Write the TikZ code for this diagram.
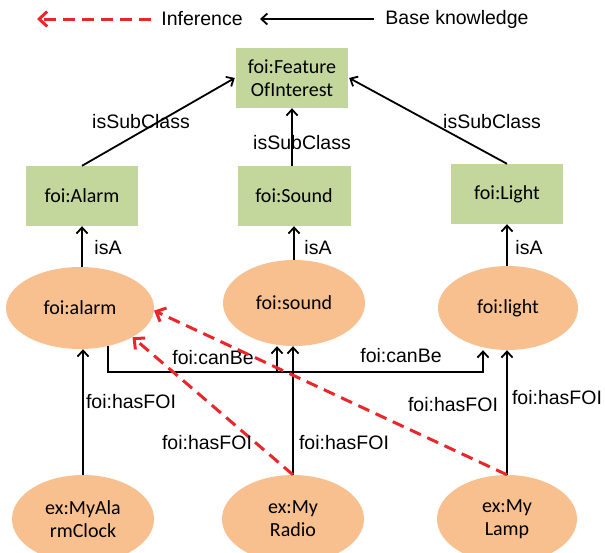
\documentclass[tikz,border=0pt]{standalone}
\usepackage{fontspec}
\setmainfont{Liberation Sans}
\newfontfamily\nodefont{Carlito}
\usetikzlibrary{arrows.meta,shapes.geometric}
\definecolor{boxgreen}{HTML}{C3D69B}
\definecolor{ellorange}{HTML}{F8BF8F}
\definecolor{infred}{HTML}{E8262B}
\tikzset{
  classbox/.style={fill=boxgreen, draw=none, minimum width=112pt, minimum height=60pt, inner sep=0pt, align=center, font=\nodefont\fontsize{20}{23}\selectfont},
  inst/.style={ellipse, fill=ellorange, draw=none, inner sep=0pt, align=center, font=\nodefont\fontsize{20}{23}\selectfont},
  lbl/.style={font=\fontsize{19.5}{22}\selectfont, inner sep=0pt},
  base/.style={line width=1.8pt, -{Straight Barb[length=6pt,width=11pt,line width=1.8pt]}},
  infer/.style={line width=3pt, draw=infred, dash pattern=on 12pt off 7pt, -{Straight Barb[length=8pt,width=15pt,line width=3pt]}}
}
\begin{document}
\begin{tikzpicture}[x=1pt,y=-1pt]
\useasboundingbox (0,0) rectangle (605,552);
% legend
\coordinate (l1s) at (151,19);
\coordinate (l1e) at (37,19);
\coordinate (l2s) at (374,19);
\coordinate (l2e) at (260,19);
\draw[infer] (l1s) -- (l1e);
\node[lbl] (linf) at (202,19) {Inference};
\draw[base] (l2s) -- (l2e);
\node[lbl] (lbase) at (457,19) {Base knowledge};
% classes
\node[classbox] (foi) at (292,78) {foi:Feature\\OfInterest};
\node[classbox] (alarmC) at (82,196) {foi:Alarm};
\node[classbox, minimum width=113pt] (soundC) at (294,196) {foi:Sound};
\node[classbox] (lightC) at (507,194) {foi:Light};
% instances
\node[inst, minimum width=148pt, minimum height=82pt] (alarm) at (80,308) {foi:alarm};
\node[inst, minimum width=142pt, minimum height=86pt] (sound) at (294,303) {foi:sound};
\node[inst, minimum width=140pt, minimum height=84pt] (light) at (508,308) {foi:light};
\node[inst, minimum width=142pt, minimum height=88pt] (clock) at (83,519) {ex:MyAla\\rmClock};
\node[inst, minimum width=142pt, minimum height=88pt] (radio) at (293,519) {ex:My\\Radio};
\node[inst, minimum width=140pt, minimum height=88pt] (lamp) at (507,519) {ex:My\\Lamp};
% isSubClass
\draw[base] (alarmC.north) -- ([xshift=-1pt]foi.west);
\draw[base] (soundC.north -| foi.south) -- (foi.south);
\draw[base] (lightC.north) -- ([xshift=1pt]foi.east);
\node[lbl] (sc1) at (141,122) {isSubClass};
\node[lbl] (sc2) at (302,143) {isSubClass};
\node[lbl] (sc3) at (492,122) {isSubClass};
% isA
\draw[base] (alarmC.south |- alarm.north) -- (alarmC.south);
\draw[base] (sound.north) -- (soundC.south);
\draw[base] (lightC.south |- light.north) -- (lightC.south);
\node[lbl] (ia1) at (108,248) {isA};
\node[lbl] (ia2) at (318,248) {isA};
\node[lbl] (ia3) at (529,248) {isA};
% canBe
\coordinate (cbM) at (277,372);
\coordinate (cbR) at (483,372);
\draw[base] (alarm.-54) |- (cbR) -- (cbR |- light.south);
\draw[base] (cbM) -- (cbM |- sound.south);
\node[lbl] (cb1) at (213,358) {foi:canBe};
\node[lbl] (cb2) at (401,356) {foi:canBe};
% hasFOI base
\draw[base] (clock.north) -- (clock.north |- alarm.south);
\draw[base] (radio.north) -- (radio.north |- sound.south);
\draw[base] (lamp.north) -- (lamp.north |- light.south);
\node[lbl] (hf1) at (131,402) {foi:hasFOI};
\node[lbl] (hf2) at (344,443) {foi:hasFOI};
\node[lbl] (hf3) at (557,398) {foi:hasFOI};
% inference
\draw[infer] (radio.north) -- (alarm.-29);
\draw[infer] (lamp.north) -- (alarm.-2);
\node[lbl] (hf4) at (207,443) {foi:hasFOI};
\node[lbl] (hf5) at (453,405) {foi:hasFOI};
\end{tikzpicture}
\end{document}
